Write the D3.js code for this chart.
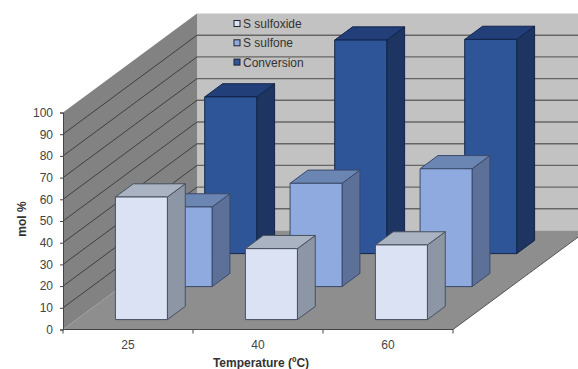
<!DOCTYPE html>
<html>
<head>
<meta charset="utf-8">
<script src="https://cdn.jsdelivr.net/npm/d3@7/dist/d3.min.js"></script>
<style>
html,body{margin:0;padding:0;background:#fff;}
svg{display:block;}
text{font-family:"Liberation Sans",Arial,sans-serif;fill:#333;}
</style>
</head>
<body>
<svg id="chart" width="578" height="369"></svg>
<script>
// Values in mol % by reaction temperature
const temperatures = ["25", "40", "60"];
const seriesNames = ["S sulfoxide", "S sulfone", "Conversion"];
const sulfoxide = [56.5, 32.7, 34.4];
const sulfone = [36.7, 47.6, 54.3];
const conversion = [72.2, 98.4, 98.7];
const valueTicks = d3.range(0, 101, 10);

const seriesValues = [sulfoxide, sulfone, conversion];
const faceColors = [
  {front: "#dbe2f4", top: "#a9b3c1", side: "#8c96a4", line: "#46505f"},
  {front: "#8faadf", top: "#6c86b3", side: "#5d7097", line: "#3a4a6a"},
  {front: "#2d5597", top: "#233f7a", side: "#1d3560", line: "#12244a"}
];

const svg = d3.select("#chart");

// Oblique projection: category along x, value up, depth into the page
const x = d3.scaleBand().domain(temperatures).range([63, 453]);
const y = d3.scaleLinear().domain([0, 100]).range([329.5, 112.5]);
const depthX = d3.scaleLinear().domain([0, 1]).range([0, 134]);
const depthY = d3.scaleLinear().domain([0, 1]).range([0, -99]);
const depthBand = d3.scaleBand().domain(d3.range(3)).range([0, 1]);
const barShare = 0.4;

const px = (cx, d) => cx + depthX(d);
const py = (v, d) => y(v) + depthY(d);
const poly = pts => pts.map(p => p.join(",")).join(" ");

const x0 = x.range()[0], x1 = x.range()[1];

// Side wall, back wall and floor
const walls = svg.append("g");
walls.append("polygon")
  .attr("points", poly([[px(x0,1),py(0,1)],[px(x1,1),py(0,1)],[px(x1,1),py(100,1)],[px(x0,1),py(100,1)]]))
  .attr("fill", "#c2c2c2");
walls.append("polygon")
  .attr("points", poly([[px(x0,0),py(0,0)],[px(x0,1),py(0,1)],[px(x0,1),py(100,1)],[px(x0,0),py(100,0)]]))
  .attr("fill", "#828282");
walls.append("polygon")
  .attr("points", poly([[px(x0,0),py(0,0)],[px(x1,0),py(0,0)],[px(x1,1),py(0,1)],[px(x0,1),py(0,1)]]))
  .attr("fill", "#8e8e8e");

// Gridlines: dark and fine on the side wall, broader and softer on the back wall
const gridValues = valueTicks.filter(v => v > 0 && v < 100);
const grid = svg.append("g");
grid.selectAll("line.side").data(gridValues).join("line")
  .attr("class", "side")
  .attr("x1", px(x0,0)).attr("y1", v => py(v,0))
  .attr("x2", px(x0,1)).attr("y2", v => py(v,1))
  .attr("stroke", "#3f3f3f").attr("stroke-width", 1);
grid.selectAll("line.back").data(gridValues).join("line")
  .attr("class", "back")
  .attr("x1", px(x0,1)).attr("y1", v => py(v,1))
  .attr("x2", px(x1,1)).attr("y2", v => py(v,1))
  .attr("stroke", "#666").attr("stroke-width", 1.4);

// Boxes, furthest series first
const bars = svg.append("g");
[2, 1, 0].forEach(s => {
  const slot = depthBand.bandwidth();
  const d0 = depthBand(s) + slot * (1 - barShare) / 2;
  const d1 = d0 + slot * barShare;
  const c = faceColors[s];
  temperatures.forEach((t, i) => {
    const v = seriesValues[s][i];
    const a = x(t) + x.bandwidth() * (1 - barShare) / 2;
    const b = a + x.bandwidth() * barShare;
    const g = bars.append("g")
      .attr("stroke", c.line).attr("stroke-width", 1).attr("stroke-linejoin", "round");
    g.append("polygon").attr("fill", c.side)
      .attr("points", poly([[px(b,d0),py(0,d0)],[px(b,d1),py(0,d1)],[px(b,d1),py(v,d1)],[px(b,d0),py(v,d0)]]));
    g.append("polygon").attr("fill", c.top)
      .attr("points", poly([[px(a,d0),py(v,d0)],[px(b,d0),py(v,d0)],[px(b,d1),py(v,d1)],[px(a,d1),py(v,d1)]]));
    g.append("polygon").attr("fill", c.front)
      .attr("points", poly([[px(a,d0),py(0,d0)],[px(b,d0),py(0,d0)],[px(b,d0),py(v,d0)],[px(a,d0),py(v,d0)]]));
  });
});

// Floor edge running back from the right end of the axis
svg.append("line")
  .attr("x1", px(x1,0)).attr("y1", py(0,0))
  .attr("x2", px(x1,1)).attr("y2", py(0,1))
  .attr("stroke", "#555");

// Value axis
const yAxis = svg.append("g")
  .attr("transform", `translate(${x0},0)`)
  .call(d3.axisLeft(y).tickValues(valueTicks).tickSize(3).tickPadding(7));
yAxis.selectAll("path,line").attr("stroke", "#444");
yAxis.selectAll("text").attr("font-size", 12).style("fill", "#444")
  .style("font-family", '"Liberation Sans",Arial,sans-serif');

// Temperature axis: ticks on the category boundaries, labels in the middle
const xAxis = svg.append("g").attr("transform", `translate(0,${y(0)})`);
xAxis.append("line").attr("x1", x0).attr("x2", x1).attr("stroke", "#444");
xAxis.selectAll("line.tick").data([...temperatures.map(t => x(t)), x1]).join("line")
  .attr("class", "tick").attr("x1", d => d).attr("x2", d => d)
  .attr("y1", 0).attr("y2", 4).attr("stroke", "#444");
xAxis.selectAll("text").data(temperatures).join("text")
  .attr("x", t => x(t) + x.bandwidth() / 2).attr("y", 19)
  .attr("text-anchor", "middle").attr("font-size", 12).style("fill", "#444").text(t => t);

// Axis titles
svg.append("text").attr("transform", "translate(26,219) rotate(-90)")
  .attr("text-anchor", "middle").attr("font-size", 12).attr("font-weight", "bold").text("mol %");
svg.append("text").attr("x", 261).attr("y", 367)
  .attr("text-anchor", "middle").attr("font-size", 12).attr("font-weight", "bold").text("Temperature (ºC)");

// Legend sitting on the back wall
const legend = svg.append("g").selectAll("g").data(seriesNames).join("g")
  .attr("transform", (d, i) => `translate(234,${20.5 + i * 19.3})`);
legend.append("rect").attr("width", 6).attr("height", 6)
  .attr("fill", (d, i) => faceColors[i].front).attr("stroke", "#223");
legend.append("text").attr("x", 9).attr("y", 7.5).attr("font-size", 12).text(d => d);
</script>
</body>
</html>
